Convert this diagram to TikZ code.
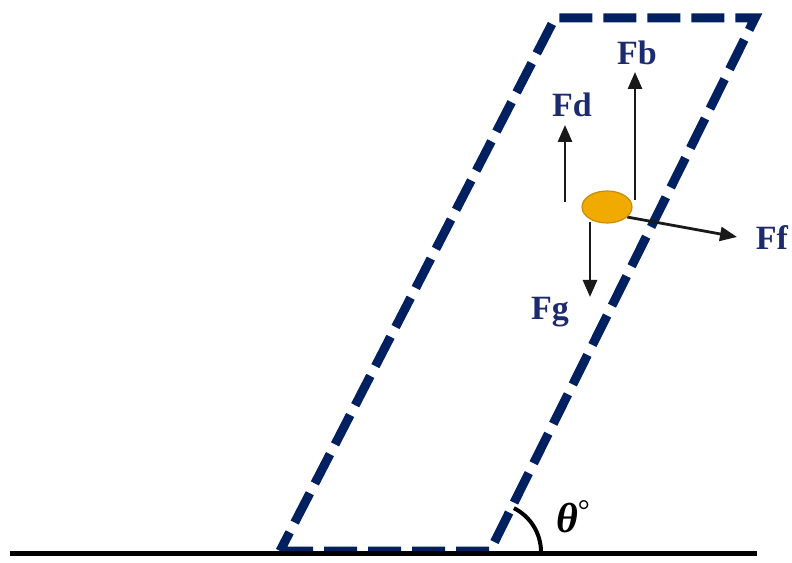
\documentclass[tikz,border=0pt]{standalone}
\usepackage{fontspec}
\setmainfont{Liberation Serif}
\usetikzlibrary{arrows.meta,shapes.geometric,calc}
\definecolor{navy}{RGB}{0,32,96}
\definecolor{labelblue}{RGB}{28,42,110}
\definecolor{ballfill}{RGB}{240,170,0}
\definecolor{ballline}{RGB}{200,140,0}
\begin{document}
\begin{tikzpicture}[x=1pt,y=1pt,
  frame/.style={navy,line width=9pt,dash pattern=on 33pt off 11pt},
  force/.style={black!90,line width=2.8pt,-{Triangle[length=17pt,width=14pt]}},
  flabel/.style={labelblue,font=\fontsize{34}{36}\selectfont\bfseries,inner sep=0pt}]
\useasboundingbox (0,0) rectangle (792,562);
% parallelogram
\coordinate (A) at (280,11);
\coordinate (B) at (490,11);
\coordinate (C) at (755,544);
\coordinate (D) at (555,544);
\draw[frame] (A) -- (B) -- (C) -- (D) -- cycle;
% baseline
\coordinate (g0) at (10,9);
\coordinate (g1) at (757,9);
\draw[black,line width=5pt] (g0) -- (g1);
% angle arc
\coordinate (O) at (492,10);
\draw[black,line width=4pt] ($(O)+(63.5:49)$) arc[start angle=63.5,end angle=0,radius=49];
\node[inner sep=0pt,font=\fontsize{42}{46}\selectfont] (theta) at (573,45) {\textbf{\textit{θ}}\raisebox{12pt}{\fontsize{30}{30}\selectfont °}};
% forces
\coordinate (fbs) at (635,362);
\coordinate (fbe) at (635,490);
\coordinate (fds) at (565,360);
\coordinate (fde) at (565,437);
\coordinate (fgs) at (590,340);
\coordinate (fge) at (590,265);
\coordinate (ffs) at (627,345);
\coordinate (ffe) at (737,325);
\draw[force] (fbs) -- (fbe);
\draw[force] (fds) -- (fde);
\draw[force] (fgs) -- (fge);
\draw[force] (ffs) -- (ffe);
\node[ellipse,draw=ballline,fill=ballfill,line width=1.2pt,minimum width=50pt,minimum height=32pt,inner sep=0pt] (ball) at (607,355) {};
\node[flabel] (Fb) at (637,509) {Fb};
\node[flabel] (Fd) at (572,457) {Fd};
\node[flabel] (Ff) at (772,324) {Ff};
\node[flabel] (Fg) at (550,250) {Fg};
\end{tikzpicture}
\end{document}
